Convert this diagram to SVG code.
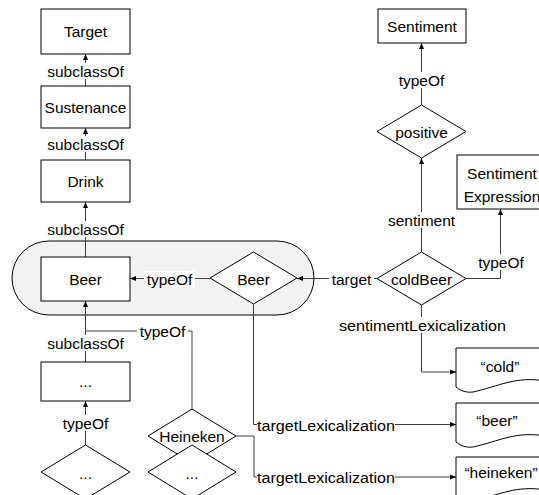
<svg xmlns="http://www.w3.org/2000/svg" width="539" height="495" viewBox="0 0 539 495">
<defs>
<marker id="arr" viewBox="0 0 6 6" refX="6" refY="3" markerWidth="6" markerHeight="6" markerUnits="userSpaceOnUse" orient="auto">
<path d="M0,0.5 L6,3 L0,5.5 Z" fill="#000"/>
</marker>
<style>
.n{fill:#fff;stroke:#000;stroke-width:1}
.c{fill:none;stroke:#404040;stroke-width:1}
.t{font-family:"Liberation Sans",Arial,sans-serif;font-size:15.5px;fill:#000;text-anchor:middle;dominant-baseline:central}
.l{font-family:"Liberation Sans",Arial,sans-serif;font-size:15.5px;fill:#000;dominant-baseline:central}
.bg{fill:#fff}
</style>
</defs>
<rect x="12" y="241" width="302" height="74" rx="37" ry="37" fill="#f2f2f2" stroke="#000" stroke-width="1"/>
<g id="connectors">
<line class="c" x1="85.5" y1="86" x2="85.5" y2="54" marker-end="url(#arr)"/>
<line class="c" x1="85.5" y1="160" x2="85.5" y2="128" marker-end="url(#arr)"/>
<line class="c" x1="85.5" y1="257" x2="85.5" y2="202" marker-end="url(#arr)"/>
<line class="c" x1="85.5" y1="362" x2="85.5" y2="301" marker-end="url(#arr)"/>
<polyline class="c" points="192,409 192,331 85.5,331"/>
<line class="c" x1="85.5" y1="445" x2="85.5" y2="401" marker-end="url(#arr)"/>
<line class="c" x1="210" y1="278.5" x2="130" y2="278.5" marker-end="url(#arr)"/>
<line class="c" x1="377" y1="278.5" x2="297" y2="278.5" marker-end="url(#arr)"/>
<line class="c" x1="421.5" y1="105" x2="421.5" y2="43" marker-end="url(#arr)"/>
<line class="c" x1="421.5" y1="252" x2="421.5" y2="158" marker-end="url(#arr)"/>
<polyline class="c" points="466,278.5 500.5,278.5 500.5,209" marker-end="url(#arr)"/>
<polyline class="c" points="421.5,305 421.5,372 456,372" marker-end="url(#arr)"/>
<polyline class="c" points="253.5,304 253.5,424.5 456,424.5" marker-end="url(#arr)"/>
<polyline class="c" points="236,436 254,436 254,477 456,477" marker-end="url(#arr)"/>
<rect class="bg" x="46" y="63" width="79" height="16"/>
<text class="t" x="85.5" y="71">subclassOf</text>
<rect class="bg" x="46" y="136" width="79" height="16"/>
<text class="t" x="85.5" y="144">subclassOf</text>
<rect class="bg" x="46" y="221" width="79" height="16"/>
<text class="t" x="85.5" y="229">subclassOf</text>
<rect class="bg" x="46" y="335" width="79" height="16"/>
<text class="t" x="85.5" y="343">subclassOf</text>
<rect class="bg" x="61" y="415" width="49" height="16"/>
<text class="t" x="85.5" y="423">typeOf</text>
<rect class="bg" x="137" y="323" width="51" height="16"/>
<text class="t" x="162.5" y="331">typeOf</text>
<rect class="bg" x="144" y="271" width="51" height="16"/>
<text class="t" x="169.5" y="279">typeOf</text>
<rect class="bg" x="329" y="271" width="45" height="16"/>
<text class="t" x="351.5" y="279">target</text>
<rect class="bg" x="397" y="72" width="49" height="16"/>
<text class="t" x="421.5" y="80">typeOf</text>
<rect class="bg" x="385" y="212" width="74" height="16"/>
<text class="t" x="421.5" y="220">sentiment</text>
<rect class="bg" x="476" y="254" width="50" height="16"/>
<text class="t" x="501" y="262">typeOf</text>
<rect class="bg" x="339" y="317" width="167" height="16"/>
<text class="t" x="422.5" y="325" textLength="167" lengthAdjust="spacingAndGlyphs">sentimentLexicalization</text>
<rect class="bg" x="257" y="417" width="138" height="16"/>
<text class="l" x="257" y="425" textLength="138" lengthAdjust="spacingAndGlyphs">targetLexicalization</text>
<rect class="bg" x="257" y="469" width="138" height="16"/>
<text class="l" x="257" y="477" textLength="138" lengthAdjust="spacingAndGlyphs">targetLexicalization</text>
</g>
<g id="target"><rect class="n" x="41" y="9" width="89" height="45"/><text class="t" x="85.5" y="31.5">Target</text></g>
<g id="sustenance"><rect class="n" x="41" y="86" width="89" height="42"/><text class="t" x="85.5" y="107">Sustenance</text></g>
<g id="drink"><rect class="n" x="41" y="160" width="89" height="42"/><text class="t" x="85.5" y="181">Drink</text></g>
<g id="beer-class"><rect class="n" x="41" y="257" width="89" height="44"/><text class="t" x="85.5" y="279">Beer</text></g>
<g id="sub-class"><rect class="n" x="41" y="362" width="89" height="39"/><text class="t" x="85.5" y="381">...</text></g>
<g id="inst-left"><polygon class="n" points="85.5,445 130,472 85.5,499 41,472"/><text class="t" x="85.5" y="473">...</text></g>
<g id="heineken"><polygon class="n" points="192,409 236,436 192,463 148,436"/></g>
<g id="inst-mid"><polygon class="n" points="192,445 236,472 192,499 148,472"/><text class="t" x="192" y="473">...</text></g>
<text class="t" x="192" y="436">Heineken</text>
<g id="beer-inst"><polygon class="n" points="253.5,252 297,278 253.5,304 210,278"/><text class="t" x="253.5" y="279">Beer</text></g>
<g id="coldbeer"><polygon class="n" points="421.5,252 466,278.5 421.5,305 377,278.5"/><text class="t" x="421.5" y="279">coldBeer</text></g>
<g id="positive"><polygon class="n" points="421.5,105 466,131.5 421.5,158 377,131.5"/><text class="t" x="421.5" y="132">positive</text></g>
<g id="sentiment"><rect class="n" x="378" y="9" width="88" height="34"/><text class="t" x="422" y="26">Sentiment</text></g>
<g id="sentiment-expression"><rect class="n" x="457" y="155" width="90" height="54"/><text class="t" x="502" y="173">Sentiment</text><text class="t" x="502" y="196">Expression</text></g>
<g id="lex-cold"><path class="n" d="M456,387 V348 H546 V381 C515,376 500,386 473,392 C465,393 460,390 456,387 Z"/><text class="t" x="500" y="366">“cold”</text></g>
<g id="lex-beer"><path class="n" d="M456,442 V403 H546 V436 C515,431 500,441 473,447 C465,448 460,445 456,442 Z"/><text class="t" x="497" y="420">“beer”</text></g>
<g id="lex-heineken"><path class="n" d="M456,496 V457 H546 V490 C515,485 500,495 473,501 C465,502 460,499 456,496 Z"/><text class="t" x="501" y="472">“heineken”</text></g>
</svg>
